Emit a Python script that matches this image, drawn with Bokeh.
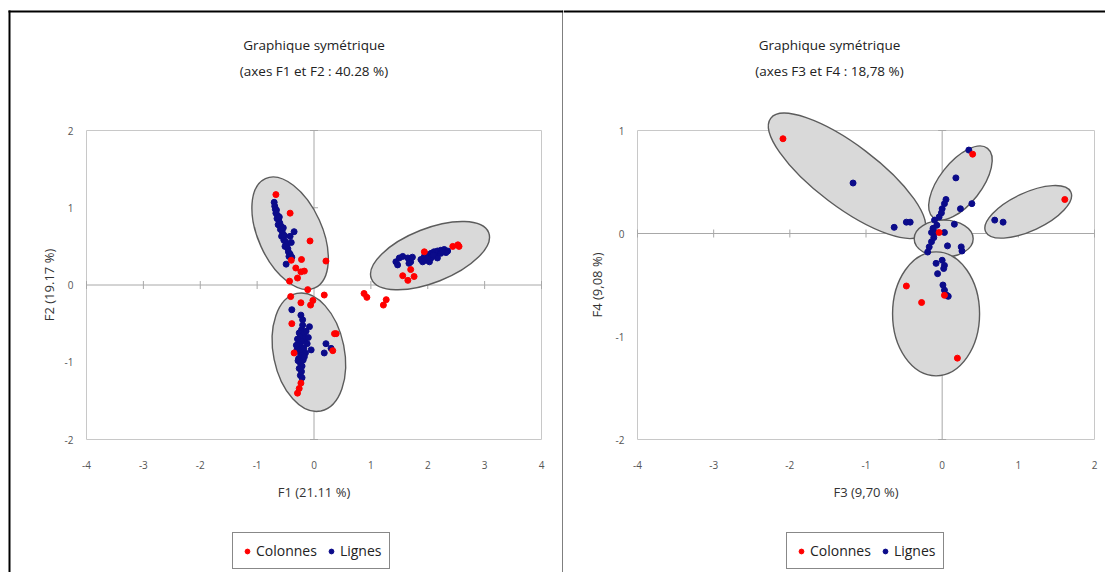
from bokeh.plotting import figure
from bokeh.models import Range1d, FixedTicker, Legend, LegendItem, Label, BoxAnnotation
from bokeh.layouts import row
from bokeh.embed import file_html
from bokeh.resources import INLINE

FONT = "Open Sans"
RED = "#ff0000"
NAVY = "#0b0b8a"

# ---------------- Panel 1 : F1 / F2 ----------------
p1_title = ["Graphique symétrique", "(axes F1 et F2 : 40.28 %)"]
p1_xlabel = "F1 (21.11 %)"
p1_ylabel = "F2 (19.17 %)"
p1_xticks = [-4, -3, -2, -1, 0, 1, 2, 3, 4]
p1_yticks = [-2, -1, 0, 1, 2]

p1_col_x = [-0.67, -0.42, -0.07, 0.21, -0.22, -0.40, -0.32, -0.23, -0.17, -0.29, -0.43, -0.11,
            -0.41, -0.23, -0.02, -0.06, 0.18, 0.88, 0.93, 1.27, 1.22, -0.39, 0.36, 0.39, 0.33,
            -0.35, -0.23, -0.26, -0.29, 1.94, 2.44, 2.53, 2.55, 1.70, 1.56, 1.65, 1.76]
p1_col_y = [1.17, 0.93, 0.57, 0.31, 0.33, 0.32, 0.22, 0.17, 0.18, 0.09, 0.05, -0.06,
            -0.15, -0.23, -0.20, -0.26, -0.13, -0.11, -0.16, -0.19, -0.26, -0.50, -0.63, -0.63, -0.85,
            -0.88, -1.27, -1.34, -1.40, 0.43, 0.50, 0.52, 0.50, 0.20, 0.12, 0.06, 0.11]

p1_lig_x = [-0.70, -0.69, -0.68, -0.66, -0.67, -0.64, -0.65, -0.62, -0.60, -0.63, -0.58, -0.59,
            -0.56, -0.55, -0.57, -0.52, -0.53, -0.50, -0.48, -0.51, -0.46, -0.45, -0.42, -0.44,
            -0.39, -0.49, -0.42, -0.40, -0.61, -0.54, -0.35,
            -0.39, -0.23, -0.20, -0.08, -0.05, 0.21, 0.30, 0.18,
            -0.22, -0.26, -0.18, -0.24, -0.29, -0.16, -0.21, -0.27, -0.12, -0.23, -0.18, -0.30,
            -0.25, -0.15, -0.22, -0.27, -0.19, -0.24, -0.21, -0.26, -0.22, -0.24, -0.21, -0.10,
            -0.14, -0.31, -0.20, -0.28, -0.17,
            1.44, 1.50, 1.47, 1.56, 1.65, 1.70, 1.67, 1.73, 1.88, 1.94, 2.00, 2.06, 2.11, 2.17,
            2.23, 2.29, 2.35, 1.97, 2.06, 2.14, 2.23, 2.32, 1.91, 2.03, 2.17, 2.09, 2.26]
p1_lig_y = [1.07, 1.02, 0.98, 0.97, 0.93, 0.90, 0.86, 0.84, 0.80, 0.78, 0.76, 0.72,
            0.70, 0.66, 0.63, 0.64, 0.58, 0.56, 0.52, 0.50, 0.47, 0.43, 0.40, 0.37,
            0.36, 0.27, 0.63, 0.55, 0.88, 0.74, 0.69,
            -0.32, -0.39, -0.45, -0.54, -0.84, -0.76, -0.82, -0.88,
            -0.58, -0.62, -0.63, -0.67, -0.70, -0.70, -0.73, -0.76, -0.76, -0.80, -0.82, -0.84,
            -0.87, -0.88, -0.91, -0.95, -0.97, -1.01, -1.05, -1.08, -1.12, -1.17, -1.20, -0.68,
            -0.60, -0.78, -0.52, -0.98, -0.93,
            0.30, 0.35, 0.26, 0.37, 0.35, 0.30, 0.28, 0.36, 0.33, 0.37, 0.39, 0.41, 0.43, 0.44,
            0.45, 0.46, 0.44, 0.32, 0.35, 0.38, 0.41, 0.42, 0.30, 0.30, 0.35, 0.39, 0.43]

# confidence ellipses: centre (data), length / width (px), angle (deg)
p1_ell_x = [-0.42, -0.09, 2.04]
p1_ell_y = [0.67, -0.87, 0.38]
p1_ell_len = [120, 120, 126]
p1_ell_wid = [64, 71, 54]
p1_ell_ang = [-65.7, -78.5, 21.5]

# ---------------- Panel 2 : F3 / F4 ----------------
p2_title = ["Graphique symétrique", "(axes F3 et F4 : 18,78 %)"]
p2_xlabel = "F3 (9,70 %)"
p2_ylabel = "F4 (9,08 %)"
p2_xticks = [-4, -3, -2, -1, 0, 1, 2]
p2_yticks = [-2, -1, 0, 1]

p2_col_x = [-2.09, 1.61, 0.40, -0.04, -0.47, -0.27, 0.03, 0.20]
p2_col_y = [0.92, 0.33, 0.77, 0.01, -0.51, -0.67, -0.60, -1.21]

p2_lig_x = [-1.17, -0.63, -0.47, -0.42, 0.35, 0.18, 0.39, 0.24, 0.69, 0.80, 0.16, 0.05,
            0.03, 0.00, -0.01, -0.04, -0.10, -0.07, -0.12, -0.14, -0.09, 0.03, -0.11, -0.14,
            -0.17, -0.19, 0.07, 0.25, 0.26, -0.08, 0.00, 0.03, 0.02, -0.06, 0.01, 0.03, 0.06, 0.08]
p2_lig_y = [0.49, 0.06, 0.11, 0.11, 0.81, 0.54, 0.29, 0.24, 0.13, 0.11, 0.09, 0.33,
            0.29, 0.24, 0.20, 0.16, 0.13, 0.08, 0.05, 0.01, 0.01, 0.01, -0.04, -0.08,
            -0.13, -0.18, -0.12, -0.13, -0.17, -0.29, -0.26, -0.31, -0.34, -0.39, -0.50, -0.55, -0.60, -0.61]

p2_ell_x = [-1.25, 0.24, 0.02, -0.08, 1.13]
p2_ell_y = [0.56, 0.49, -0.05, -0.78, 0.21]
p2_ell_len = [191, 88, 59, 87, 94]
p2_ell_wid = [62, 42, 37, 124, 38]
p2_ell_ang = [-37, 52, 0, 0, 25]

H = 572  # canvas height (px)


def axis_range(v0, p0, v1, p1, size):
    """Range whose values v0 / v1 fall on pixels p0 / p1 of a canvas of `size` px."""
    k = (p1 - p0) / (v1 - v0)
    return Range1d(v0 - p0 / k, v0 + (size - p0) / k)


def panel(titles, xlabel, ylabel, xticks, yticks, col_x, col_y, lig_x, lig_y,
          ex, ey, el, ew, ea, width, box_px, title_x, legend_xy,
          ytick_standoff, ylab_standoff, rules):
    xb = [xticks[0], xticks[-1]]
    yb = [yticks[0], yticks[-1]]
    bl, br, bt, bbot = box_px
    yr = axis_range(yb[1], bt, yb[0], bbot, H)
    yr = Range1d(yr.end, yr.start)
    p = figure(width=width, height=H, x_range=axis_range(xb[0], bl, xb[1], br, width),
               y_range=yr, output_backend="svg", toolbar_location=None,
               min_border=0, min_border_left=0, min_border_right=0,
               min_border_top=0, min_border_bottom=0)
    p.outline_line_color = None
    p.xgrid.visible = False
    p.ygrid.visible = False
    p.background_fill_color = "white"
    p.border_fill_color = "white"

    p.quad(left=[xb[0]], right=[xb[1]], bottom=[yb[0]], top=[yb[1]],
           fill_color=None, line_color="#c8c8c8", line_width=1)
    p.segment(x0=[xb[0], 0], y0=[0, yb[0]], x1=[xb[1], 0], y1=[0, yb[1]],
              line_color="#a8a8a8", line_width=1)
    p.scatter(x=xticks, y=[0] * len(xticks), marker="dash", angle=90, angle_units="deg",
              size=8, line_color="#a8a8a8")
    p.scatter(x=[0] * len(yticks), y=yticks, marker="dash", size=8, line_color="#a8a8a8")

    p.ellipse(x=ex, y=ey, width=el, height=ew, angle=ea, angle_units="deg",
              width_units="screen", height_units="screen",
              fill_color="#d9d9d9", line_color="#5c5c5c", line_width=1.4)

    r_lig = p.scatter(lig_x, lig_y, size=6, fill_color=NAVY, line_color=NAVY)
    r_col = p.scatter(col_x, col_y, size=6, fill_color=RED, line_color=RED)

    xa, ya = p.xaxis[0], p.yaxis[0]
    xa.fixed_location = yb[0]
    ya.fixed_location = xb[0]
    xa.bounds = (xb[0], xb[1])
    ya.bounds = (yb[0], yb[1])
    for ax, ticks in ((xa, xticks), (ya, yticks)):
        ax.ticker = FixedTicker(ticks=ticks)
        ax.major_label_overrides = {t: str(t) for t in ticks}
        ax.axis_line_color = None
        ax.major_tick_line_color = None
        ax.minor_tick_line_color = None
        ax.major_tick_in = 0
        ax.major_tick_out = 0
        ax.major_label_text_font = FONT
        ax.major_label_text_font_size = "10px"
        ax.major_label_text_color = "#555555"
        ax.axis_label_text_font = FONT
        ax.axis_label_text_font_size = "13px"
        ax.axis_label_text_font_style = "normal"
        ax.axis_label_text_color = "#333333"
    xa.axis_label = xlabel
    xa.major_label_standoff = 21
    xa.axis_label_standoff = 11
    ya.axis_label = ylabel
    ya.major_label_standoff = ytick_standoff
    ya.axis_label_standoff = ylab_standoff

    for txt, ty in zip(titles, (H - 44, H - 70)):
        p.add_layout(Label(x=title_x, y=ty, x_units="screen", y_units="screen",
                           text=txt, text_font=FONT, text_font_size="13.5px",
                           text_color="#222222", text_align="center",
                           text_baseline="middle"))

    legend = Legend(items=[LegendItem(label="Colonnes", renderers=[r_col]),
                           LegendItem(label="Lignes", renderers=[r_lig])],
                    orientation="horizontal", location=legend_xy,
                    border_line_color="#111111", border_line_width=1.5,
                    background_fill_color="white", background_fill_alpha=1,
                    padding=8, spacing=8, margin=0, glyph_width=12, glyph_height=12,
                    label_standoff=3, label_text_font=FONT, label_text_font_size="14px",
                    label_text_color="#222222")
    p.add_layout(legend)

    # black frame rules of the page (screen px, y from bottom)
    for l, r, t, b in rules:
        p.add_layout(BoxAnnotation(left=l, right=r, top=t, bottom=b,
                                   left_units="screen", right_units="screen",
                                   top_units="screen", bottom_units="screen",
                                   fill_color="black", fill_alpha=1, line_color=None,
                                   level="overlay"))
    return p


p1 = panel(p1_title, p1_xlabel, p1_ylabel, p1_xticks, p1_yticks, p1_col_x, p1_col_y,
           p1_lig_x, p1_lig_y, p1_ell_x, p1_ell_y, p1_ell_len, p1_ell_wid, p1_ell_ang,
           563, (86, 541, 130, 439), 313.5, (232, 3), 13, 4,
           [(8, 563, H - 10, H - 12), (8, 10, H - 10, 0), (562, 563, H - 10, 0)])

p2 = panel(p2_title, p2_xlabel, p2_ylabel, p2_xticks, p2_yticks, p2_col_x, p2_col_y,
           p2_lig_x, p2_lig_y, p2_ell_x, p2_ell_y, p2_ell_len, p2_ell_wid, p2_ell_ang,
           542, (74, 531, 130, 439), 266, (223, 3), 13, 7,
           [(0, 542, H - 10, H - 12)])

layout = row(p1, p2)
open("out.html", "w").write(file_html(layout, INLINE))
